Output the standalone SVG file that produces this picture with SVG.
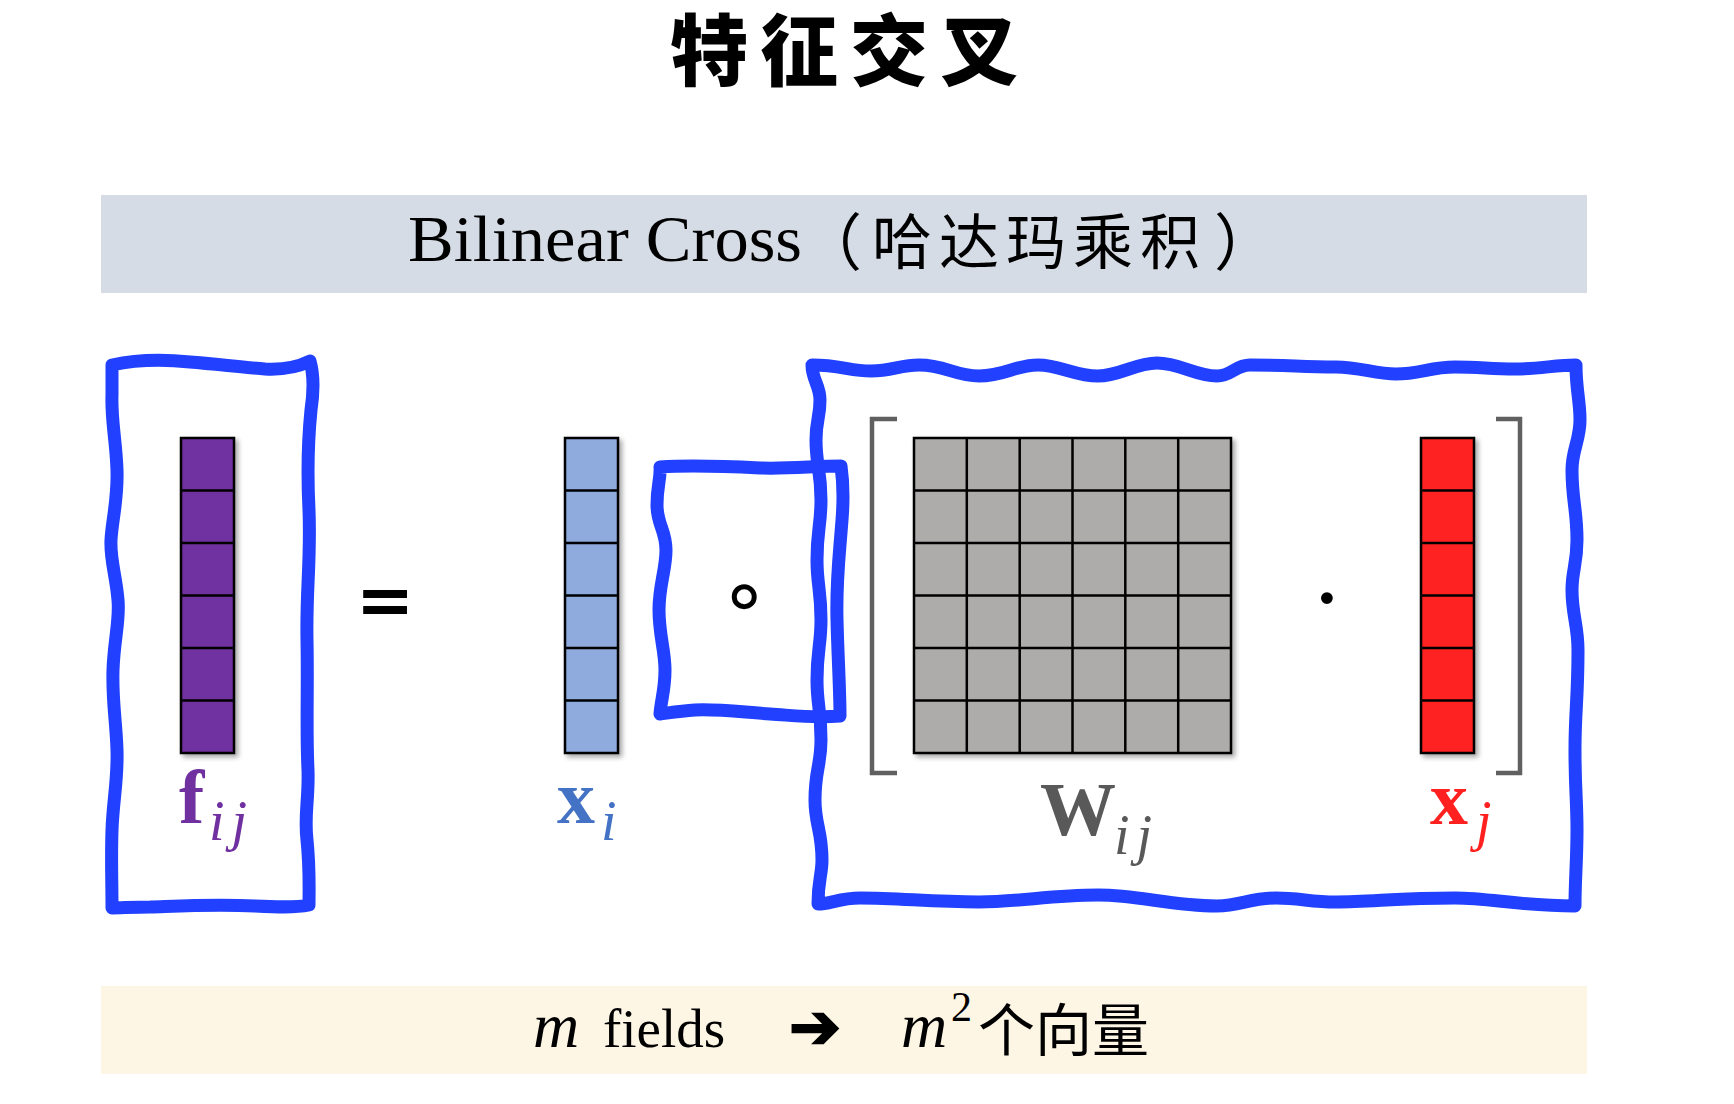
<svg xmlns="http://www.w3.org/2000/svg" width="1734" height="1104" viewBox="0 0 1734 1104">
<defs>
<filter id="sh" x="-20%" y="-20%" width="150%" height="150%">
<feDropShadow dx="3" dy="3" stdDeviation="2.5" flood-color="#000" flood-opacity="0.35"/>
</filter>
<style>
.blue{fill:none;stroke:#2140FF;stroke-width:13;stroke-linejoin:round;stroke-linecap:round}
.cell{stroke:#000;stroke-width:2.5}
.grid{stroke:#000;stroke-width:2.5;fill:none}
.brk{fill:none;stroke:#606060;stroke-width:4.5}
.cjk{font-family:"Noto Sans CJK SC",sans-serif}
.ser{font-family:"Liberation Serif",serif}
.big{font-family:"Liberation Serif",serif;font-weight:bold;font-size:76px}
.sub{font-family:"Liberation Serif",serif;font-style:italic;font-size:56px}
</style>
</defs>
<rect width="1734" height="1104" fill="#fff"/>

<g id="title">
<text x="670" y="80" class="cjk" font-size="78" font-weight="900" letter-spacing="12" fill="#000">特征交叉</text>
</g>

<g id="header">
<rect x="101" y="195" width="1486" height="98" fill="#D6DCE5"/>
<text x="408" y="261" class="ser" font-size="66" fill="#000" textLength="394" lengthAdjust="spacingAndGlyphs">Bilinear Cross</text>
<text x="800" y="266" class="cjk" font-size="62" fill="#000">（</text>
<text x="872" y="264" class="cjk" font-size="60" letter-spacing="7" fill="#000">哈达玛乘积</text>
<text x="1214" y="266" class="cjk" font-size="62" fill="#000">）</text>
</g>

<g id="connectors">
<path id="box-left" class="blue" d="M 112 365 C 135 360, 160 359, 190 362 C 215 364, 240 367, 265 369 C 285 370, 300 366, 310 361 C 314 375, 314 390, 311 410 C 308 440, 307 470, 309 510 C 311 560, 306 590, 307 640 C 308 690, 306 730, 308 770 C 309 800, 304 815, 307 840 C 310 870, 309 890, 309 905 C 295 908, 275 907, 255 906 C 215 904, 180 906, 150 907 C 135 907, 120 908, 112 908 C 112 880, 111 860, 112 830 C 113 800, 118 780, 117 750 C 116 720, 112 700, 113 670 C 114 640, 120 620, 118 600 C 116 575, 110 560, 111 540 C 112 520, 118 500, 117 470 C 116 440, 111 420, 112 395 Z"/>
<path id="box-small" class="blue" d="M 660 467 C 690 465, 720 466, 760 468 C 790 469, 815 466, 841 466 C 843 480, 844 495, 842 520 C 839 560, 836 580, 837 620 C 838 660, 840 690, 840 716 C 815 718, 800 716, 770 714 C 740 712, 720 709, 695 710 C 680 711, 668 713, 660 714 C 661 700, 665 690, 665 670 C 665 650, 659 635, 659 610 C 659 585, 666 570, 666 550 C 666 530, 657 525, 657 505 C 657 485, 661 478, 660 467 Z"/>
<path id="box-big" class="blue" d="M 812 365 C 840 365, 850 371, 871 371 C 892 371, 900 365, 919 365 C 945 365, 955 376, 979 376 C 1005 376, 1015 365, 1038 365 C 1060 365, 1075 376, 1098 376 C 1120 376, 1135 363, 1157 363 C 1180 363, 1195 376, 1217 376 C 1232 376, 1235 365, 1250 365 C 1290 365, 1300 367, 1336 367 C 1360 367, 1375 374, 1396 374 C 1420 374, 1430 367, 1455 367 C 1480 367, 1490 369, 1515 369 C 1540 369, 1555 365, 1576 365 C 1576 390, 1580 400, 1580 420 C 1580 440, 1572 450, 1572 470 C 1572 500, 1577 510, 1577 540 C 1577 565, 1572 570, 1572 590 C 1572 615, 1578 625, 1578 650 C 1578 700, 1575 710, 1575 750 C 1575 790, 1577 800, 1577 830 C 1577 860, 1575 880, 1575 906 C 1520 906, 1490 898, 1455 898 C 1400 898, 1370 902, 1336 902 C 1310 902, 1300 898, 1276 898 C 1250 898, 1240 906, 1217 906 C 1170 906, 1140 895, 1098 895 C 1050 895, 1020 902, 979 902 C 930 902, 900 898, 860 898 C 840 898, 830 904, 818 904 C 818 880, 822 875, 822 860 C 822 830, 815 825, 815 800 C 815 770, 821 765, 821 740 C 821 710, 817 705, 817 680 C 817 650, 821 645, 821 620 C 821 590, 817 585, 817 560 C 817 530, 821 525, 821 500 C 821 470, 816 465, 816 440 C 816 420, 820 418, 820 400 C 820 385, 812 380, 812 365 Z"/>
</g>

<g id="f_ij">
<g filter="url(#sh)">
<rect x="181" y="438" width="53" height="315" fill="#7030A0" class="cell"/>
</g>
<path class="grid" d="M181 490.5H234M181 543H234M181 595.5H234M181 648H234M181 700.5H234"/>
<text x="179" y="823" class="big" fill="#7030A0">f</text>
<text x="209" y="840" class="sub" fill="#7030A0" letter-spacing="7">ij</text>
</g>

<g id="equals">
<text x="385" y="624" font-family="DejaVu Sans, sans-serif" font-weight="bold" font-size="70" text-anchor="middle" fill="#000">=</text>
</g>

<g id="x_i">
<g filter="url(#sh)">
<rect x="565" y="438" width="53" height="315" fill="#8FAADC" class="cell"/>
</g>
<path class="grid" d="M565 490.5H618M565 543H618M565 595.5H618M565 648H618M565 700.5H618"/>
<text x="557" y="823" class="big" fill="#4472C4">x</text>
<text x="601" y="840" class="sub" fill="#4472C4">i</text>
</g>

<g id="hadamard">
<text x="744" y="622" font-family="DejaVu Sans, sans-serif" font-size="80" text-anchor="middle" fill="#000">∘</text>
</g>

<g id="W_ij">
<path class="brk" d="M897 419H872V773H897"/>
<g filter="url(#sh)">
<rect x="914" y="438" width="317" height="315" fill="#AEABAB" class="cell"/>
</g>
<path class="grid" d="M914 490.5H1231M914 543H1231M914 595.5H1231M914 648H1231M914 700.5H1231M966.8 438V753M1019.7 438V753M1072.5 438V753M1125.3 438V753M1178.2 438V753"/>
<text x="1040" y="835" class="big" fill="#595959">W</text>
<text x="1114" y="854" class="sub" fill="#595959" letter-spacing="7">ij</text>
</g>

<g id="dot">
<text x="1327" y="631" font-family="Liberation Serif, serif" font-size="100" text-anchor="middle" fill="#000">·</text>
</g>

<g id="x_j">
<g filter="url(#sh)">
<rect x="1421" y="438" width="53" height="315" fill="#FF2020" class="cell"/>
</g>
<path class="grid" d="M1421 490.5H1474M1421 543H1474M1421 595.5H1474M1421 648H1474M1421 700.5H1474"/>
<path class="brk" d="M1496 419H1520V773H1496"/>
<text x="1430" y="824" class="big" fill="#FF2020">x</text>
<text x="1476" y="840" class="sub" fill="#FF2020">j</text>
</g>

<g id="footer">
<rect x="101" y="986" width="1486" height="88" fill="#FEF6E4"/>
<text x="533" y="1047" class="ser" font-style="italic" font-size="64" fill="#000">m</text>
<text x="603" y="1047" class="ser" font-size="55" fill="#000">fields</text>
<text x="789" y="1048" font-family="DejaVu Sans, sans-serif" font-size="62" font-weight="bold" stroke="#000" stroke-width="2" fill="#000">➔</text>
<text x="901" y="1047" class="ser" font-style="italic" font-size="64" fill="#000">m</text>
<text x="951" y="1021" class="ser" font-size="42" fill="#000">2</text>
<text x="978" y="1051" class="cjk" font-size="57" fill="#000">个向量</text>
</g>
</svg>
